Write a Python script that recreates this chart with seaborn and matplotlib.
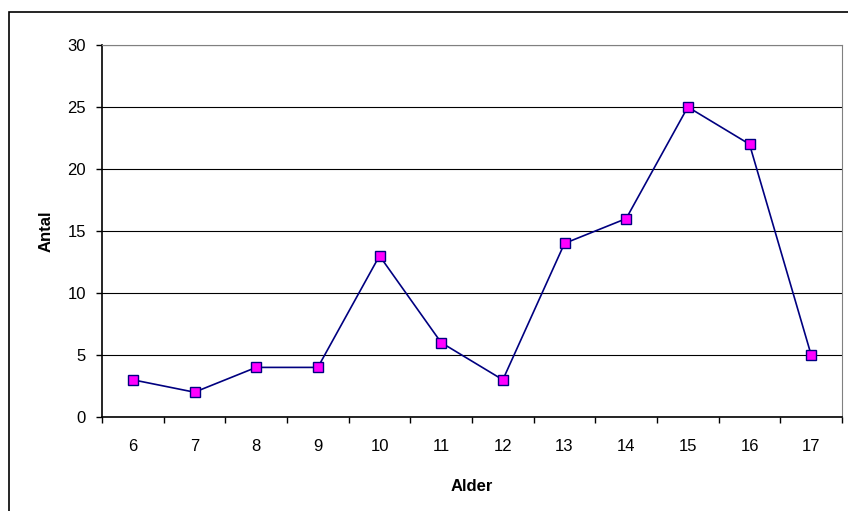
import matplotlib
matplotlib.use("Agg")
import matplotlib.pyplot as plt
import seaborn as sns
import pandas as pd
from matplotlib.patches import Rectangle

ages = [6, 7, 8, 9, 10, 11, 12, 13, 14, 15, 16, 17]
counts = [3, 2, 4, 4, 13, 6, 3, 14, 16, 25, 22, 5]

df = pd.DataFrame({"Alder": [str(a) for a in ages], "Antal": counts})
df["pos"] = range(len(df))

sns.set_style("white")
plt.rcParams["font.family"] = ["Liberation Sans", "DejaVu Sans"]
plt.rcParams.update({"text.color": "black", "axes.labelcolor": "black",
                     "xtick.color": "black", "ytick.color": "black"})

fig = plt.figure(figsize=(8.48, 5.11), dpi=100)
ax = fig.add_axes([102 / 848, 1 - 417 / 511, 740 / 848, 372 / 511])

# outer chart border (only left and top visible in the picture)
fig.patches.append(Rectangle((9 / 848, -0.2), 1.2, 1.2 - 12 / 511,
                             transform=fig.transFigure, fill=False,
                             edgecolor="black", linewidth=1.2))

sns.lineplot(data=df, x="pos", y="Antal", ax=ax, color="#000080", linewidth=1.2,
             marker="s", markersize=7, markerfacecolor="#FF00FF",
             markeredgecolor="#000080", markeredgewidth=1.0)

ax.set_xlim(-0.5, len(ages) - 0.5)
ax.set_ylim(0, 30)
ax.set_yticks(range(0, 31, 5))
ax.yaxis.grid(True, color="#000000", linewidth=0.8)
ax.xaxis.grid(False)

ax.set_xticks([i - 0.5 for i in range(len(ages) + 1)])
ax.set_xticklabels([])
ax.set_xticks(range(len(ages)), minor=True)
ax.set_xticklabels(df["Alder"], minor=True)
ax.tick_params(axis="x", which="major", bottom=True, direction="out", length=4.5, width=1, color="black")
ax.tick_params(axis="x", which="minor", bottom=True, length=0, pad=16, labelsize=12)
ax.tick_params(axis="y", left=True, direction="out", length=4.5, width=1, color="black", labelsize=12, pad=7)

for side in ["left", "bottom"]:
    ax.spines[side].set_color("black")
    ax.spines[side].set_linewidth(1.2)
ax.spines["right"].set_color("#808080")
ax.spines["top"].set_color("#808080")

ax.set_xlabel("Alder", fontsize=12, fontweight="bold", labelpad=18)
ax.set_ylabel("Antal", fontsize=12, fontweight="bold", labelpad=10)

fig.savefig("out.png", dpi=100)
